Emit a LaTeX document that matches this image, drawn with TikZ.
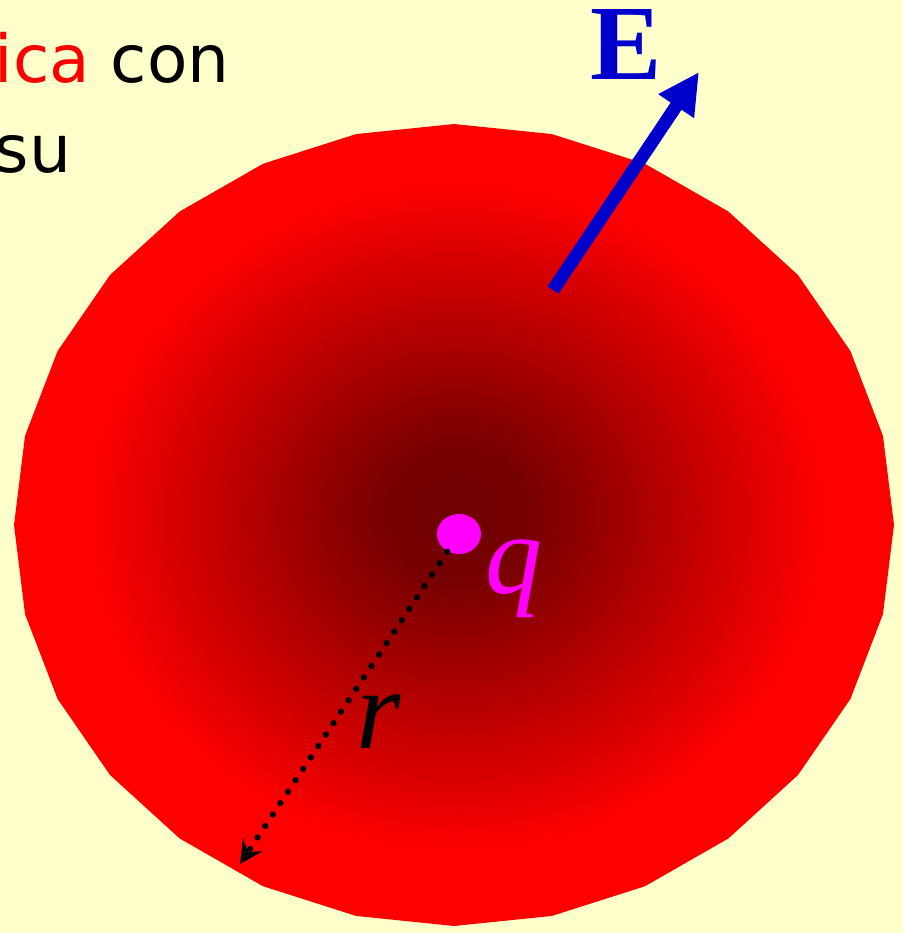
\documentclass[tikz,border=0pt]{standalone}
\usepackage{fontspec}
\setmainfont{DejaVu Sans}
\newfontfamily\GSserif{Liberation Serif}
\usetikzlibrary{arrows.meta,shapes.geometric}
\definecolor{GSbg}{RGB}{255,255,204}
\definecolor{GSblue}{RGB}{0,0,204}
\definecolor{GSpink}{RGB}{255,0,255}
\definecolor{GSdark}{RGB}{112,0,0}
\definecolor{GSred}{RGB}{255,0,0}
\pgfdeclareradialshading{GSsphere}{\pgfpoint{0.2bp}{0.8bp}}{%
  color(0bp)=(GSdark); color(4bp)=(GSdark!96!red); color(21bp)=(GSred); color(50bp)=(GSred)}
\tikzset{
  caption/.style={font=\fontsize{18.8pt}{25.6pt}\selectfont,text=black,
                  inner sep=0pt,anchor=base west},
  symb/.style={font=\GSserif\itshape\fontsize{32.4pt}{36pt}\selectfont,
               inner sep=0pt,anchor=base west},
  efield/.style={font=\GSserif\bfseries\fontsize{30.4pt}{34pt}\selectfont,
                 text=GSblue,inner sep=0pt,anchor=base west},
  charge/.style={ellipse,fill=GSpink,inner sep=0pt,
                 minimum width=0.44cm,minimum height=0.40cm},
  vec/.style={-{Triangle[length=11.7pt,width=11.4pt]},line width=3.7pt,draw=GSblue},
  rline/.style={-{Stealth[length=6.5pt,width=6.5pt,inset=2.4pt]},line width=1.8pt,
                dash pattern=on 0pt off 3.9pt,line cap=round,draw=black}
}
\begin{document}
\begin{tikzpicture}[x=0.01cm,y=-0.01cm]
  \fill[GSbg] (0,0) rectangle (903,933);
  \useasboundingbox (0,0) rectangle (903,933);
  % gaussian sphere
  \shade[shading=GSsphere] plot[domain=0:360,samples=29,variable=\t]
    ({454+440*cos(\t)},{525+401*sin(\t)}) -- cycle;
  % text
  \node[caption] (line1) at (-6,82) {\textcolor{GSred}{ica} con};
  \node[caption] (line2) at (-6,172) {su};
  % field
  \coordinate (etail) at (553,290);
  \coordinate (ehead) at (699,72);
  \draw[vec] (etail) -- (ehead);
  \node[efield] (elabel) at (590,79) {E};
  % charge and radius
  \node[charge] (qdot) at (459,534) {};
  \node[symb,text=GSpink] (qlabel) at (485,593) {q};
  \coordinate (rend) at (240,864);
  \draw[rline] (qdot) -- (rend);
  \node[symb,text=black] (rlabel) at (356,748) {r};
\end{tikzpicture}
\end{document}
